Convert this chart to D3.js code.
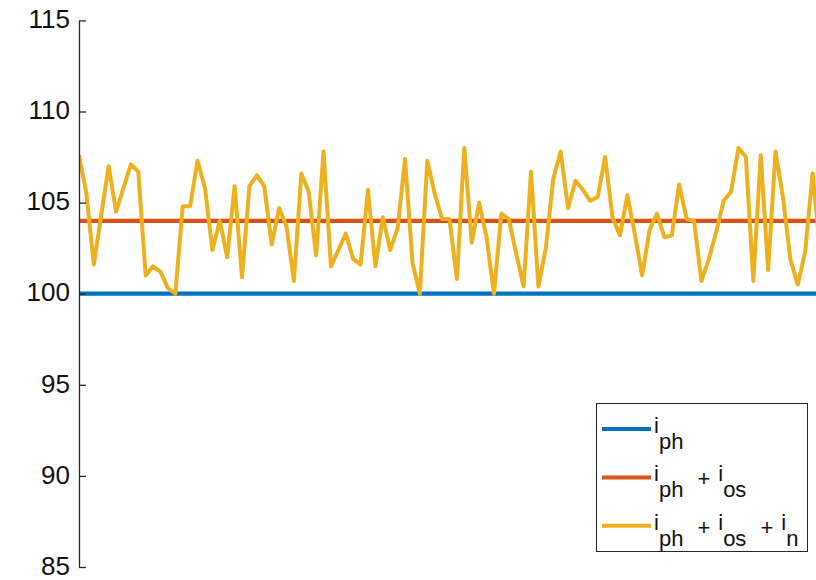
<!DOCTYPE html>
<html>
<head>
<meta charset="utf-8">
<script src="https://cdn.jsdelivr.net/npm/d3@7"></script>
<style>
  html, body { margin: 0; padding: 0; background: #fff; }
  svg { display: block; font-family: "Liberation Sans", Arial, Helvetica, sans-serif; }
</style>
</head>
<body>
<svg id="chart" width="816" height="580"></svg>
<script>
// Photocurrent level, photocurrent plus offset, and the noisy total
const photoCurrent = 100;
const offsetCurrent = 4;
const noisyCurrent = [
  107.6, 105.5, 101.6, 104.3, 107.0, 104.5, 105.8, 107.1, 106.7, 101.0,
  101.5, 101.2, 100.3, 100.0, 104.8, 104.8, 107.3, 105.8, 102.4, 104.0,
  102.0, 105.9, 100.9, 105.9, 106.5, 105.9, 102.7, 104.7, 103.7, 100.7,
  106.6, 105.6, 102.1, 107.8, 101.5, 102.4, 103.3, 101.9, 101.6, 105.7,
  101.5, 104.2, 102.4, 103.6, 107.4, 101.7, 100.0, 107.3, 105.5, 104.1,
  104.1, 100.8, 108.0, 102.8, 105.0, 103.1, 100.0, 104.4, 104.1, 102.2,
  100.4, 106.7, 100.4, 102.5, 106.3, 107.8, 104.7, 106.2, 105.7, 105.1,
  105.3, 107.5, 104.2, 103.2, 105.4, 103.3, 101.0, 103.5, 104.4, 103.1,
  103.2, 106.0, 104.1, 104.0, 100.7, 101.9, 103.4, 105.1, 105.6, 108.0,
  107.5, 100.7, 107.6, 101.3, 107.8, 105.3, 101.9, 100.5, 102.3, 106.6,
  102.5
];
const yTicks = [85, 90, 95, 100, 105, 110, 115];
// Legend entries: each piece is [text, kind] with kind "main", "sub" or "op"
const legendLabels = [
  [["i", "main"], ["ph", "sub"]],
  [["i", "main"], ["ph", "sub"], ["+", "op"], ["i", "main"], ["os", "sub"]],
  [["i", "main"], ["ph", "sub"], ["+", "op"], ["i", "main"], ["os", "sub"], ["+", "op"], ["i", "main"], ["n", "sub"]]
];
const colors = ["#0072BD", "#D95319", "#EDB120"];

const svg = d3.select("#chart");
const axisX = 79;
const x = d3.scaleLinear().domain([0, noisyCurrent.length - 1]).range([axisX, axisX + 7.41 * (noisyCurrent.length - 1)]);
const y = d3.scaleLinear().domain([85, 115]).range([567, 20.4]);

svg.append("defs").append("clipPath").attr("id", "plot-clip")
  .append("rect").attr("x", axisX).attr("y", 0).attr("width", 816 - axisX).attr("height", 580);

const plot = svg.append("g").attr("clip-path", "url(#plot-clip)");
const xDomain = x.domain();

// Constant levels span the whole record
[photoCurrent, photoCurrent + offsetCurrent].forEach((level, i) => {
  plot.append("line")
    .attr("x1", x(xDomain[0])).attr("x2", x(xDomain[1]))
    .attr("y1", y(level)).attr("y2", y(level))
    .attr("stroke", colors[i]).attr("stroke-width", 4.2);
});

plot.append("path")
  .datum(noisyCurrent)
  .attr("fill", "none")
  .attr("stroke", colors[2])
  .attr("stroke-width", 4)
  .attr("stroke-linejoin", "round")
  .attr("d", d3.line().x((d, i) => x(i)).y(d => y(d)));

// Y axis with inward ticks
const yAxis = svg.append("g")
  .attr("transform", `translate(${axisX},0)`)
  .call(d3.axisLeft(y).tickValues(yTicks).tickSizeInner(-7).tickSizeOuter(0).tickPadding(9).tickFormat(d3.format("d")));
yAxis.select(".domain").attr("stroke", "#262626").attr("stroke-width", 1.3);
yAxis.selectAll(".tick line").attr("stroke", "#262626").attr("stroke-width", 1.3);
yAxis.selectAll(".tick text")
  .attr("fill", "#111")
  .attr("font-size", 26)
  .attr("dy", "0.28em")
  .attr("font-family", "'Liberation Sans', Arial, sans-serif");

// Legend
const legend = svg.append("g");
legend.append("rect")
  .attr("x", 596.5).attr("y", 403.5).attr("width", 211).attr("height", 148)
  .attr("fill", "#fff").attr("stroke", "#262626").attr("stroke-width", 1);

const offsets = { main: 0, sub: 16, op: 5 };
const gaps = { main: 0, sub: 0, op: 14 };
legendLabels.forEach((parts, i) => {
  const ly = 429 + i * 48.4;
  legend.append("line")
    .attr("x1", 602).attr("x2", 651)
    .attr("y1", ly).attr("y2", ly)
    .attr("stroke", colors[i]).attr("stroke-width", 4);
  const t = legend.append("text")
    .attr("x", 654).attr("y", ly + 4)
    .attr("font-size", 22).attr("fill", "#111");
  let prev = "main";
  parts.forEach(([str, kind], k) => {
    let dx = gaps[kind];
    if (kind === "main" && prev === "op") dx = 8;
    t.append("tspan")
      .attr("dx", k === 0 ? 0 : dx)
      .attr("dy", offsets[kind] - offsets[prev])
      .text(str);
    prev = kind;
  });
});
</script>
</body>
</html>
